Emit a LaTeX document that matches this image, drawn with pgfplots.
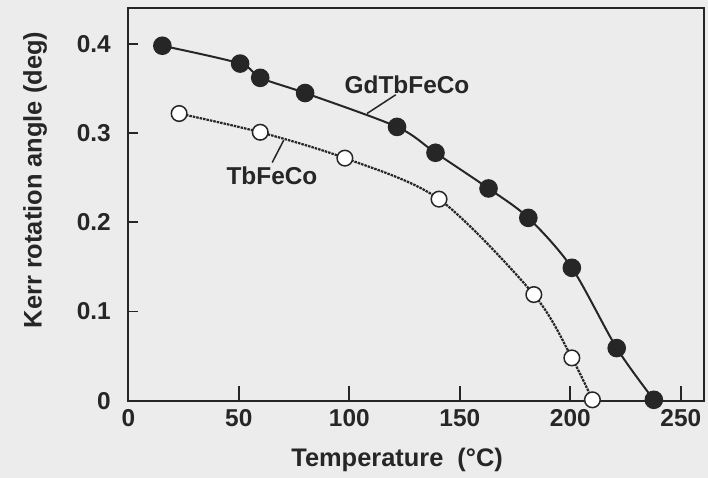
\documentclass[border=0pt]{standalone}
\usepackage{fontspec}
\setmainfont{Liberation Sans}
\usepackage{pgfplots}
\pgfplotsset{compat=1.18}
\definecolor{bg}{RGB}{236,236,236}
\definecolor{ink}{RGB}{38,38,38}
\begin{document}
\begin{tikzpicture}[x=1bp,y=1bp]
\fill[bg] (-128.3,-77.3) rectangle (579.7,400.7);
\useasboundingbox (-128.3,-77.3) rectangle (579.7,400.7);
\begin{axis}[
  at={(0,0)}, anchor=south west,
  scale only axis, width=575.7bp, height=392.4bp,
  xmin=0, xmax=260.5, ymin=0, ymax=0.44,
  axis line style={ink, line width=1.8bp},
  xtick={0,50,100,150,200,250},
  xticklabels={0,50,100,150,200,250},
  ytick={0,0.1,0.2,0.3,0.4},
  yticklabels={0,0.1,0.2,0.3,0.4},
  tick align=inside,
  xtick pos=bottom, ytick pos=left,
  xtick style={ink, line width=1.8bp, /pgfplots/major tick length=15bp},
  ytick style={ink, line width=1.8bp, /pgfplots/major tick length=10bp},
  ticklabel style={font=\fontsize{24.5}{28}\selectfont\bfseries, text=ink},
  xticklabel style={yshift=-5bp},
  yticklabel style={xshift=-14bp},
  label style={font=\fontsize{25.5}{29}\selectfont\bfseries, text=ink},
  xlabel={Temperature\ \ (°C)},
  xlabel style={at={(rel axis cs:0.467,0)}, anchor=center, yshift=-59bp},
  ylabel={Kerr rotation angle (deg)},
  ylabel style={at={(rel axis cs:-0.162,0.5625)}, anchor=center},
  clip=false,
]
\addplot[ink, line width=2bp, smooth, tension=0.5, mark=*, mark size=8.3bp, mark options={solid, fill=ink, draw=ink}]
coordinates {(15.4,0.398) (50.6,0.378) (59.7,0.362) (80,0.345) (121.6,0.307) (139,0.278) (163,0.238) (181,0.205) (200.7,0.149) (221,0.059) (237.8,0.001)};
\addplot[ink, line width=2.2bp, dash pattern=on 2.5bp off 1bp, smooth, tension=0.5, mark=*, mark size=7.8bp, mark options={solid, fill=white, draw=ink, line width=1.5bp}]
coordinates {(23,0.322) (59.7,0.301) (98,0.272) (140.6,0.226) (183.5,0.119) (200.7,0.048) (210,0.001)};
\draw[ink, line width=1.5bp] (axis cs:108,0.322) -- (axis cs:121,0.343);
\draw[ink, line width=1.5bp] (axis cs:65.1,0.267) -- (axis cs:70.3,0.292);
\node[font=\fontsize{24.5}{28}\selectfont\bfseries, text=ink] at (axis cs:126.1,0.354) {GdTbFeCo};
\node[font=\fontsize{24.5}{28}\selectfont\bfseries, text=ink] at (axis cs:65,0.252) {TbFeCo};
\end{axis}
\end{tikzpicture}
\end{document}
